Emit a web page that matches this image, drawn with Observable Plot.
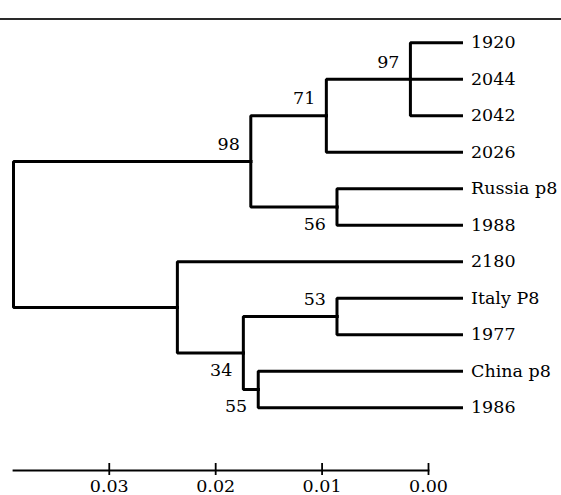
<!DOCTYPE html>
<html><head><meta charset="utf-8">
<script src="https://cdn.jsdelivr.net/npm/d3@7"></script>
<script src="https://cdn.jsdelivr.net/npm/@observablehq/plot@0.6"></script>
<style>
body{margin:0;background:#fff;}
#wrap{position:relative;width:561px;height:495px;overflow:hidden;}
#rule{position:absolute;left:0;top:18px;width:561px;height:2px;background:#2a2a2a;}
#chart{position:absolute;left:0;top:0;}
</style></head><body>
<div id="wrap"><div id="chart"></div><div id="rule"></div></div>
<script>
// Leaves, top to bottom
const leafNames = ["1920","2044","2042","2026","Russia p8","1988","2180","Italy P8","1977","China p8","1986"];
const leafDepth = -0.0031; // where the leaf tips sit against the scale bar
// Internal nodes
const nodeNames = ["root","n98","n71","n97","n56","nLow","n34","n53","n55"];
const nodeDepths = [0.0390,0.0167,0.0096,0.0017,0.0086,0.0236,0.0174,0.0086,0.0160];
const nodeChildren = [
  ["n98","nLow"],
  ["n71","n56"],
  ["n97","2026"],
  ["1920","2044","2042"],
  ["Russia p8","1988"],
  ["2180","n34"],
  ["n53","n55"],
  ["Italy P8","1977"],
  ["China p8","1986"]
];
const nodeSupport = [null,98,71,97,56,null,34,53,55];
const scaleTicks = [0.03,0.02,0.01,0.00];
const scaleExtent = [0.039,0];

const pos = new Map();
leafNames.forEach((n,i)=>pos.set(n,{x:leafDepth,y:i}));
function place(name){
  if(pos.has(name)) return pos.get(name);
  const k = nodeNames.indexOf(name);
  const ch = nodeChildren[k].map(place);
  const p = {x:nodeDepths[k], y:(ch[0].y+ch[ch.length-1].y)/2};
  pos.set(name,p); return p;
}
place("root");
const elbows=[]; const supports=[];
nodeNames.forEach((n,k)=>{
  const p=pos.get(n);
  nodeChildren[k].forEach((c,j)=>{
    const q=pos.get(c);
    elbows.push({id:c,x:p.x,y:p.y},{id:c,x:p.x,y:q.y},{id:c,x:q.x,y:q.y});
    const ci=nodeNames.indexOf(c);
    if(ci>=0 && nodeSupport[ci]!=null){
      supports.push({x:q.x,y:q.y,label:String(nodeSupport[ci]),above:j===0});
    }
  });
});
const leaves = leafNames.map((n,i)=>({name:n,x:leafDepth,y:i}));
const font = "DejaVu Serif";
const fs = 17.5;

const chart = Plot.plot({
  width:561, height:495,
  marginLeft:13, marginRight:133, marginTop:20, marginBottom:25,
  style:{fontFamily:font, fontSize:fs+"px", color:"#000", background:"transparent"},
  x:{domain:scaleExtent, label:null},
  y:{domain:[0,10], range:[42.3,407.3], axis:null},
  marks:[
    Plot.line(elbows,{x:"x",y:"y",z:"id",stroke:"#000",strokeWidth:3,strokeLinejoin:"miter",strokeLinecap:"square"}),
    Plot.text(leaves,{x:"x",y:"y",text:"name",textAnchor:"start",dx:9.5,fontSize:fs,fontFamily:font,fill:"#000"}),
    Plot.text(supports.filter(d=>d.above),{x:"x",y:"y",text:"label",textAnchor:"end",dx:-11,dy:-17,fontSize:fs,fontFamily:font,fill:"#000"}),
    Plot.text(supports.filter(d=>!d.above),{x:"x",y:"y",text:"label",textAnchor:"end",dx:-11,dy:17,fontSize:fs,fontFamily:font,fill:"#000"}),
    Plot.frame({anchor:"bottom",stroke:"#000",strokeWidth:1.8}),
    Plot.axisX(scaleTicks,{anchor:"bottom",label:null,tickSize:12,dy:-7,tickPadding:4,tickFormat:d=>d.toFixed(2),fontSize:fs,fontFamily:font,stroke:"#000",strokeWidth:1.8,fill:"#000"})
  ]
});
document.getElementById("chart").appendChild(chart);
</script>
</body></html>
